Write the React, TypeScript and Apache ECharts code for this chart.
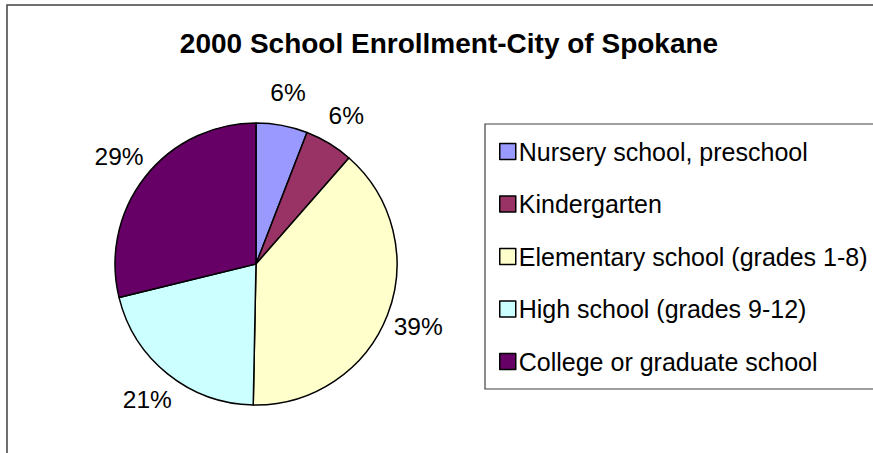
import React, { useEffect, useRef } from "react";
import * as echarts from "echarts";

const categories = [
  "Nursery school, preschool",
  "Kindergarten",
  "Elementary school (grades 1-8)",
  "High school (grades 9-12)",
  "College or graduate school",
];
const enrollment = [3290, 3110, 21700, 11650, 16100];
const colors = ["#9999FF", "#993366", "#FFFFCC", "#CCFFFF", "#660066"];
const titleText = "2000 School Enrollment-City of Spokane";

const FONT = "'Liberation Sans', Arial, Helvetica, sans-serif";

export default function App() {
  const ref = useRef<HTMLDivElement>(null);
  useEffect(() => {
    if (!ref.current) return;
    const chart = echarts.init(ref.current, undefined, { renderer: "svg" });
    const cx = 256;
    const cy = 264;
    const r = 141;
    const labelR = 174;
    const total = enrollment.reduce((a, b) => a + b, 0);
    const mids: number[] = [];
    let acc = 0;
    enrollment.forEach((v) => {
      mids.push(((acc + v / 2) / total) * Math.PI * 2);
      acc += v;
    });
    chart.setOption({
      animation: false,
      backgroundColor: "#ffffff",
      title: {
        text: titleText,
        left: 444,
        top: 24,
        textAlign: "center",
        textStyle: { fontFamily: FONT, fontSize: 28, fontWeight: "bold", color: "#000" },
      },
      graphic: [
        {
          type: "rect",
          shape: { x: 7, y: 5, width: 1000, height: 600 },
          style: { fill: "none", stroke: "#404040", lineWidth: 1.5 },
          silent: true,
        },
        {
          type: "rect",
          shape: { x: 485, y: 124, width: 600, height: 265 },
          style: { fill: "none", stroke: "#404040", lineWidth: 1.2 },
          silent: true,
        },
      ],
      legend: {
        orient: "vertical",
        left: 499,
        top: 139,
        itemWidth: 16,
        itemHeight: 16,
        itemGap: 27.5,
        padding: 0,
        icon: "rect",
        itemStyle: { borderColor: "#000", borderWidth: 1.5 },
        textStyle: { fontFamily: FONT, fontSize: 25, color: "#000", padding: [0, 0, 0, -2] },
        data: categories,
      },
      series: [
        {
          type: "pie",
          center: [cx, cy],
          radius: r,
          startAngle: 90,
          clockwise: true,
          itemStyle: { borderColor: "#000", borderWidth: 1.5 },
          label: {
            show: true,
            position: "outside",
            fontFamily: FONT,
            fontSize: 24.5,
            color: "#000",
            formatter: (p: any) => Math.round(p.percent) + "%",
          },
          labelLine: { show: false },
          labelLayout: (p: any) => {
            const a = mids[p.dataIndex];
            return {
              x: cx + labelR * Math.sin(a),
              y: cy - labelR * Math.cos(a),
              align: "center",
              verticalAlign: "middle",
            };
          },
          emphasis: { disabled: true },
          data: categories.map((name, i) => ({
            name,
            value: enrollment[i],
            itemStyle: { color: colors[i] },
          })),
        },
      ],
    });
    return () => chart.dispose();
  }, []);
  return (
    <div
      ref={ref}
      style={{ position: "fixed", left: 0, top: 0, width: 873, height: 453, background: "#fff" }}
    />
  );
}
